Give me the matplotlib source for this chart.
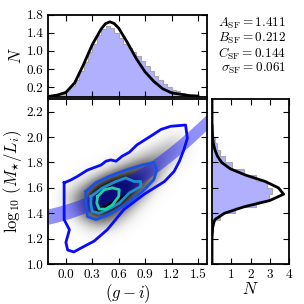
import numpy as np
import matplotlib
matplotlib.use("Agg")
import matplotlib.pyplot as plt
from matplotlib.path import Path

plt.rcParams["font.family"] = "serif"
plt.rcParams["font.serif"] = ["cmr10"]
plt.rcParams["mathtext.fontset"] = "cm"
plt.rcParams["axes.unicode_minus"] = False

# fit parameters shown in the corner
A_SF, B_SF, C_SF, SIG_SF = 1.411, 0.212, 0.144, 0.061

# top panel: (g-i) histogram and model curve
gi_edges = np.arange(-0.2, 1.5501, 0.05)
gi_hist = [0.0, 0.01, 0.03, 0.06, 0.12, 0.22, 0.36, 0.55, 0.76, 0.98,
           1.16, 1.34, 1.49, 1.55, 1.50, 1.40, 1.28, 1.16, 1.06, 0.98,
           0.88, 0.78, 0.68, 0.56, 0.46, 0.36, 0.28, 0.21, 0.15, 0.11,
           0.08, 0.05, 0.04, 0.02, 0.01]
gi_model_x = [-0.2, -0.1, 0.0, 0.1, 0.2, 0.3, 0.4, 0.45, 0.5, 0.55, 0.6,
              0.7, 0.8, 0.9, 1.0, 1.1, 1.2, 1.3, 1.4, 1.5]
gi_model_n = [0.0, 0.03, 0.09, 0.30, 0.70, 1.14, 1.48, 1.60, 1.64, 1.60, 1.50,
              1.18, 0.83, 0.54, 0.33, 0.17, 0.08, 0.05, 0.02, 0.01]

# right panel: log10(M/L) histogram and model curve
ml_edges = np.arange(1.0, 2.3001, 0.05)
ml_hist = [0.0, 0.0, 0.0, 0.01, 0.02, 0.05, 0.12, 0.40, 1.20, 2.30,
           2.95, 3.10, 2.85, 2.30, 1.65, 1.05, 0.65, 0.42, 0.25, 0.13,
           0.07, 0.03, 0.01, 0.0, 0.0, 0.0]
ml_model_y = [1.0, 1.2, 1.3, 1.35, 1.40, 1.45, 1.50, 1.55, 1.60, 1.65,
              1.70, 1.75, 1.80, 1.85, 1.90, 1.95, 2.0, 2.1, 2.3]
ml_model_n = [0.0, 0.0, 0.04, 0.15, 0.65, 1.65, 3.0, 3.72, 3.45, 2.77,
              1.75, 0.95, 0.50, 0.28, 0.15, 0.07, 0.03, 0.0, 0.0]

# density contours (g-i, log M/L), outermost first
contour_outer = [(-0.02, 1.64), (0.05, 1.66), (0.13, 1.69), (0.245, 1.74),
                 (0.40, 1.78), (0.455, 1.81), (0.51, 1.82), (0.57, 1.81),
                 (0.64, 1.85), (0.72, 1.88), (0.81, 1.94), (0.97, 2.01),
                 (1.08, 2.06), (1.19, 2.085), (1.36, 2.095), (1.38, 1.99),
                 (1.34, 1.90), (1.29, 1.81), (1.23, 1.73), (1.12, 1.65),
                 (0.89, 1.55), (0.66, 1.43), (0.47, 1.27), (0.32, 1.18),
                 (0.21, 1.14), (0.09, 1.095), (0.02, 1.11), (0.0, 1.17),
                 (0.04, 1.27), (-0.02, 1.35), (-0.02, 1.53)]
contour_2 = [(0.227, 1.572), (0.34, 1.64), (0.49, 1.69), (0.68, 1.74),
             (0.87, 1.78), (1.0, 1.80), (1.03, 1.74), (1.0, 1.665),
             (0.87, 1.572), (0.68, 1.467), (0.49, 1.39), (0.34, 1.35),
             (0.245, 1.374), (0.227, 1.48)]
contour_3 = [(0.284, 1.532), (0.416, 1.60), (0.568, 1.65), (0.68, 1.678),
             (0.776, 1.65), (0.85, 1.65), (0.85, 1.61), (0.72, 1.56),
             (0.606, 1.48), (0.49, 1.433), (0.378, 1.40), (0.30, 1.414),
             (0.284, 1.467)]
contour_4 = [(0.36, 1.532), (0.435, 1.585), (0.53, 1.60), (0.606, 1.585),
             (0.60, 1.532), (0.53, 1.467), (0.455, 1.433), (0.378, 1.433),
             (0.35, 1.48)]
grey_halo = [(-0.02, 1.56), (0.3, 1.69), (0.68, 1.81), (1.06, 1.93), (1.34, 2.03),
             (1.34, 1.92), (1.14, 1.75), (0.94, 1.57), (0.72, 1.38), (0.5, 1.27),
             (0.28, 1.28), (0.06, 1.39)]
contour_colors = ["#0a0aff", "#1a50e6", "#1f8ed0", "#22d0a8"]

xlim = (-0.2, 1.6)
ylim = (1.0, 2.3)
xticks = [0.0, 0.3, 0.6, 0.9, 1.2, 1.5]
yticks = [1.0, 1.2, 1.4, 1.6, 1.8, 2.0, 2.2]


def style(ax):
    ax.tick_params(direction="in", top=True, right=True, length=4, width=0.8,
                   labelsize=9.5)
    for s in ax.spines.values():
        s.set_linewidth(1.3)


fig = plt.figure(figsize=(3.04, 3.04), dpi=100)
ax = fig.add_axes([48.3 / 304, 40 / 304, 158.4 / 304, 165 / 304])
axt = fig.add_axes([48.3 / 304, 207.5 / 304, 158.4 / 304, 82 / 304])
axr = fig.add_axes([212 / 304, 40 / 304, 77 / 304, 165 / 304])

# grey density built from the nested contour regions, smoothed
gx = np.arange(xlim[0], xlim[1] + 1e-9, 0.005)
gy = np.arange(ylim[0], ylim[1] + 1e-9, 0.005)
XX, YY = np.meshgrid(gx, gy)
pts = np.column_stack([XX.ravel(), YY.ravel()])
dens = np.zeros(XX.shape)
for poly, w in [(grey_halo, 0.45), (contour_2, 0.3), (contour_3, 0.2), (contour_4, 0.2)]:
    dens += w * Path(poly).contains_points(pts).reshape(XX.shape)


def kernel(sig):
    k = np.arange(-3 * sig, 3 * sig + 1)
    k = np.exp(-0.5 * (k / sig) ** 2)
    return k / k.sum()


kx, ky = kernel(20), kernel(13)
dens = np.apply_along_axis(lambda r: np.convolve(r, kx, mode="same"), 1, dens)
dens = np.apply_along_axis(lambda c: np.convolve(c, ky, mode="same"), 0, dens)
ax.imshow(dens, extent=[xlim[0], xlim[1], ylim[0], ylim[1]], origin="lower",
          cmap="Greys", vmin=0, vmax=0.85, aspect="auto", interpolation="bilinear")

# model relation with scatter band
bx = np.linspace(xlim[0], xlim[1], 200)
mid = A_SF + B_SF * bx + C_SF * bx ** 2
ax.fill_between(bx, mid - SIG_SF, mid + SIG_SF, color="#1a1aff", alpha=0.48, lw=0)

for poly, c in zip([contour_outer, contour_2, contour_3, contour_4], contour_colors):
    p = np.array(poly + [poly[0]])
    ax.plot(p[:, 0], p[:, 1], color=c, lw=2.0, solid_joinstyle="round")

ax.set_xlim(*xlim)
ax.set_ylim(*ylim)
ax.set_xticks(xticks)
ax.set_xticklabels(["%.1f" % t for t in xticks])
ax.set_yticks(yticks)
ax.set_yticklabels(["%.1f" % t for t in yticks])
ax.set_xlabel(r"$(g-i)$", fontsize=12, labelpad=1)
ax.set_ylabel(r"$\log_{10}\,(M_{\star}/L_i)$", fontsize=12, labelpad=2)
style(ax)

# top histogram
axt.stairs(gi_hist, gi_edges, fill=True, color="#b0b0ff")
axt.stairs(gi_hist, gi_edges, baseline=None, color="#a8a8a8", lw=0.8)
axt.plot(gi_model_x, gi_model_n, color="black", lw=2.0)
axt.set_xlim(*xlim)
axt.set_ylim(0, 1.8)
axt.set_xticks(xticks)
axt.set_xticklabels([])
axt.set_yticks([0.2, 0.6, 1.0, 1.4, 1.8])
axt.set_yticklabels(["0.2", "0.6", "1.0", "1.4", "1.8"])
axt.set_ylabel(r"$N$", fontsize=12, labelpad=2)
style(axt)

# right histogram
axr.stairs(ml_hist, ml_edges, fill=True, color="#b0b0ff", orientation="horizontal")
axr.stairs(ml_hist, ml_edges, baseline=None, color="#a8a8a8", lw=0.8,
           orientation="horizontal")
axr.plot(ml_model_n, ml_model_y, color="black", lw=2.0)
axr.set_ylim(*ylim)
axr.set_xlim(0, 4)
axr.set_yticks(yticks)
axr.set_yticklabels([])
axr.set_xticks([1, 2, 3, 4])
axr.set_xticklabels(["1", "2", "3", "4"])
axr.set_xlabel(r"$N$", fontsize=12, labelpad=0)
style(axr)

lines = [r"$A_{\mathrm{SF}} = %.3f$" % A_SF, r"$B_{\mathrm{SF}} = %.3f$" % B_SF,
         r"$C_{\mathrm{SF}} = %.3f$" % C_SF, r"$\sigma_{\mathrm{SF}} = %.3f$" % SIG_SF]
fig.text(286 / 304, 1 - 16 / 304, "\n".join(lines), ha="right", va="top",
         multialignment="right", fontsize=9.5, linespacing=0.95)

fig.savefig("out.png", dpi=100)
